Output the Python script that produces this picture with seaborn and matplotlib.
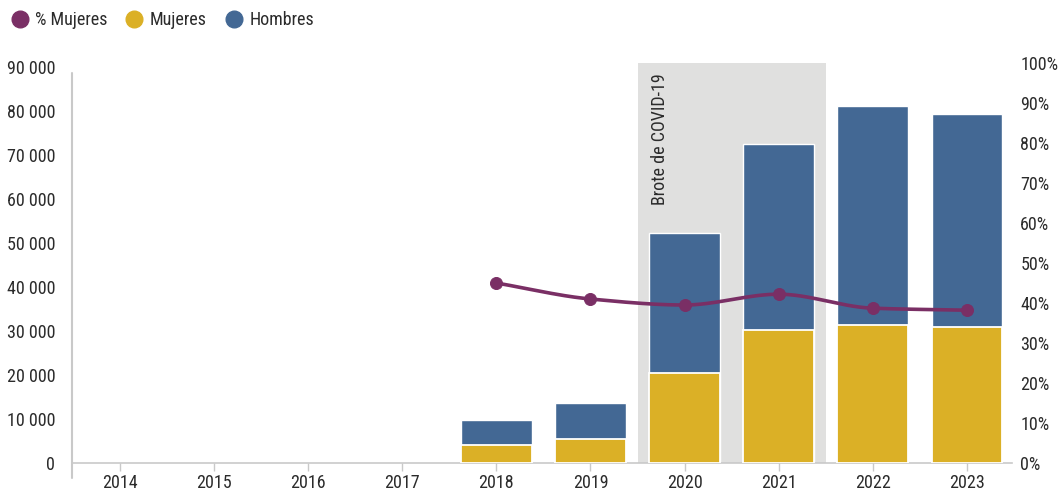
import numpy as np
import pandas as pd
import matplotlib
matplotlib.use("Agg")
import matplotlib.pyplot as plt
from matplotlib.lines import Line2D
from matplotlib import font_manager
import seaborn as sns

# Datos
years = ["2014", "2015", "2016", "2017", "2018", "2019", "2020", "2021", "2022", "2023"]
mujeres = [np.nan, np.nan, np.nan, np.nan, 4000, 5400, 20400, 30200, 31300, 30800]
hombres = [np.nan, np.nan, np.nan, np.nan, 5700, 8200, 31800, 42200, 49800, 48500]
pct_mujeres = [np.nan, np.nan, np.nan, np.nan, 0.450, 0.410, 0.395, 0.422, 0.387, 0.382]
covid_years = ["2020", "2021"]
covid_label = "Brote de COVID-19"

C_PCT = "#7A2F65"
C_MUJ = "#DBB026"
C_HOM = "#436894"
C_SHADE = "#E0E0DF"
C_AXIS = "#C9C9C9"
C_TEXT = "#2B2B2B"

sns.set_theme(style="white")
available = {f.name for f in font_manager.fontManager.ttflist}
family = [f for f in ["Liberation Sans Narrow", "Roboto Condensed", "Roboto", "DejaVu Sans"] if f in available]
plt.rcParams["font.family"] = family
plt.rcParams["text.color"] = C_TEXT


def monotone_curve(x, y, n=30):
    # curva monótona (Fritsch-Carlson) solo para dibujar la línea suavizada
    x = np.asarray(x, float)
    y = np.asarray(y, float)
    h = np.diff(x)
    d = np.diff(y) / h
    m = np.zeros_like(y)
    m[0], m[-1] = d[0], d[-1]
    for i in range(1, len(y) - 1):
        if d[i - 1] * d[i] <= 0:
            m[i] = 0
        else:
            m[i] = 2 / (1 / d[i - 1] + 1 / d[i])
    xs, ys = [], []
    for i in range(len(h)):
        t = np.linspace(0, 1, n)
        h00 = 2 * t**3 - 3 * t**2 + 1
        h10 = t**3 - 2 * t**2 + t
        h01 = -2 * t**3 + 3 * t**2
        h11 = t**3 - t**2
        xs.append(x[i] + t * h[i])
        ys.append(h00 * y[i] + h10 * h[i] * m[i] + h01 * y[i + 1] + h11 * h[i] * m[i + 1])
    return np.concatenate(xs), np.concatenate(ys)


df = pd.DataFrame({"year": years, "mujeres": mujeres, "hombres": hombres, "pct": pct_mujeres})
df["total"] = df["mujeres"] + df["hombres"]
df["pos"] = np.arange(len(years))

fig = plt.figure(figsize=(10.59, 4.92), dpi=100)
ax = fig.add_axes([72 / 1059, 1 - 463 / 492, (1012 - 72) / 1059, 400 / 492])

# periodo COVID
i0 = years.index(covid_years[0])
i1 = years.index(covid_years[-1])
ax.axvspan(i0 - 0.5, i1 + 0.5, color=C_SHADE, lw=0, zorder=0)

sns.barplot(data=df, x="year", y="total", order=years, color=C_HOM, width=0.75,
            saturation=1, ax=ax, zorder=2)
sns.barplot(data=df, x="year", y="mujeres", order=years, color=C_MUJ, width=0.75,
            saturation=1, edgecolor="white", linewidth=1.3, ax=ax, zorder=3)

ax.set_xlim(-0.51, 9.48)
ax.set_ylim(0, 90900)
ax.set_yticks(np.arange(0, 90001, 10000))
ax.set_yticklabels([f"{v:,}".replace(",", " ") for v in range(0, 90001, 10000)])
ax.set_xlabel("")
ax.set_ylabel("")
for s in ["top", "right", "left"]:
    ax.spines[s].set_visible(False)
ax.spines["bottom"].set_color(C_AXIS)
ax.spines["bottom"].set_linewidth(1.2)
ax.axvline(-0.51, ymin=-0.0375, ymax=0.975, color=C_AXIS, lw=1.5, clip_on=False, zorder=5)
ax.tick_params(axis="x", length=6, width=1, color=C_AXIS, labelsize=13, pad=2, labelcolor=C_TEXT, bottom=True)
ax.tick_params(axis="y", length=0, labelsize=13, pad=12, labelcolor=C_TEXT)

ax.text(i0 - 0.26, 0.975 * 90900, covid_label, rotation=90, ha="center", va="top",
        fontsize=13, color=C_TEXT, zorder=4)

# porcentaje de mujeres
ax2 = ax.twinx()
ax2.set_ylim(0, 1)
ax2.set_yticks(np.arange(0, 1.01, 0.1))
ax2.set_yticklabels([f"{int(round(v * 100))}%" for v in np.arange(0, 1.01, 0.1)])
for s in ax2.spines.values():
    s.set_visible(False)
ax2.tick_params(axis="y", length=0, labelsize=13, pad=6, labelcolor=C_TEXT)
ax2.grid(False)

valid = df.dropna(subset=["pct"])
cx, cy = monotone_curve(valid["pos"], valid["pct"])
sns.lineplot(x=cx, y=cy, color=C_PCT, lw=2.6, ax=ax2, sort=False)
sns.scatterplot(data=valid, x="pos", y="pct", color=C_PCT, s=75, edgecolor=C_PCT, ax=ax2, zorder=5)
ax2.set_xlabel("")
ax2.set_ylabel("")

handles = [Line2D([], [], marker="o", ls="", markersize=12, color=c)
           for c in [C_PCT, C_MUJ, C_HOM]]
fig.legend(handles, ["% Mujeres", "Mujeres", "Hombres"], loc="center left",
           bbox_to_anchor=(-0.007, 1 - 20 / 492), ncol=3, frameon=False, fontsize=13,
           handletextpad=0.25, columnspacing=0.9, handlelength=1.2)

fig.savefig("out.png", dpi=100)
